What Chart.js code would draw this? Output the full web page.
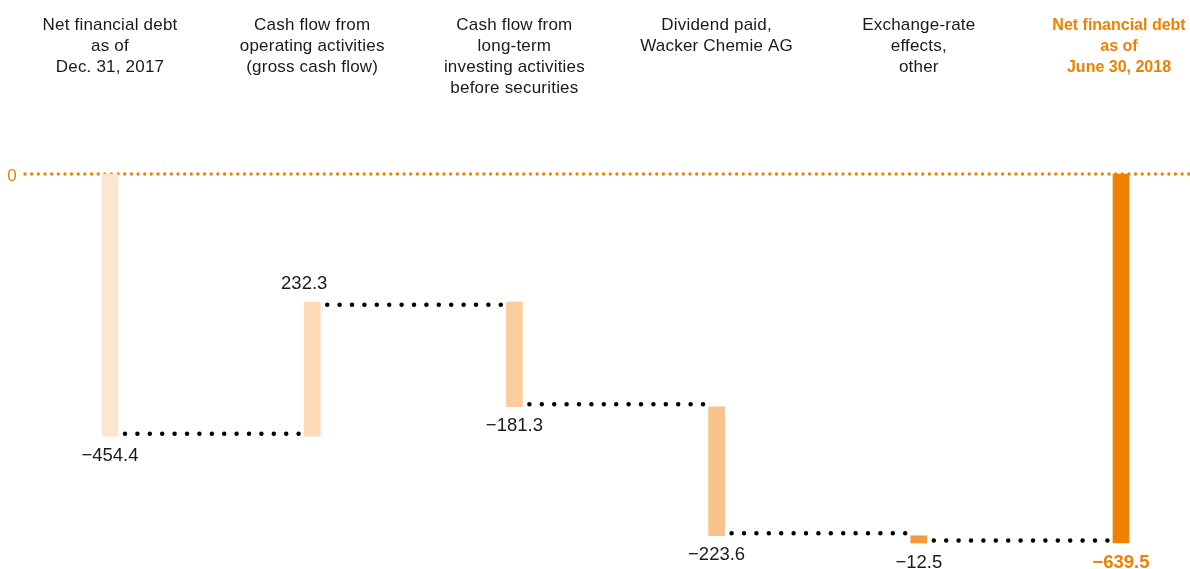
<!DOCTYPE html>
<html>
<head>
<meta charset="utf-8">
<script src="https://cdn.jsdelivr.net/npm/chart.js@4/dist/chart.umd.min.js"></script>
<style>
html,body{margin:0;padding:0;background:#fff;}
#wrap{width:1190px;height:569px;position:relative;}
</style>
</head>
<body>
<div id="wrap"><canvas id="c"></canvas></div>
<script>
// ---- data ----
const categories = [
  ["Net financial debt", "as of", "Dec. 31, 2017"],
  ["Cash flow from", "operating activities", "(gross cash flow)"],
  ["Cash flow from", "long-term", "investing activities", "before securities"],
  ["Dividend paid,", "Wacker Chemie AG"],
  ["Exchange-rate", "effects,", "other"],
  ["Net financial debt", "as of", "June 30, 2018"]
];
const values = [-454.4, 232.3, -181.3, -223.6, -12.5, -639.5];
const isTotal = [true, false, false, false, false, true];
const valueLabels = ["\u2212454.4", "232.3", "\u2212181.3", "\u2212223.6", "\u221212.5", "\u2212639.5"];
const zeroLabel = "0";

// ---- styles ----
const barColors = ["#FDE6D0", "#FDDAB8", "#FACC9E", "#F9C38D", "#F39A40", "#F08000"];
const ORANGE = "#F08000";
const TEXT = "#1a1a1a";
const FONT = "'Liberation Sans', Arial, Helvetica, sans-serif";

// build floating ranges
const ranges = [];
let run = 0;
values.forEach((v, i) => {
  if (isTotal[i]) { ranges.push([0, v]); run = v; }
  else { ranges.push([run, run + v]); run += v; }
});
const levels = ranges.map(r => r[1]);

const waterfallPlugin = {
  id: 'waterfall',
  beforeDatasetsDraw(chart) {
    const ctx = chart.ctx, y = chart.scales.y;
    const y0 = y.getPixelForValue(0);
    ctx.save();
    ctx.strokeStyle = ORANGE;
    ctx.lineWidth = 3.3;
    ctx.lineCap = 'round';
    ctx.setLineDash([0, 6.65]);
    ctx.beginPath();
    ctx.moveTo(25, y0);
    ctx.lineTo(1190, y0);
    ctx.stroke();
    ctx.setLineDash([]);
    ctx.fillStyle = ORANGE;
    ctx.font = "17px " + FONT;
    ctx.textAlign = 'center';
    ctx.textBaseline = 'middle';
    ctx.fillText(zeroLabel, 12, y0 + 2);
    ctx.restore();
  },
  afterDatasetsDraw(chart) {
    const ctx = chart.ctx, y = chart.scales.y;
    const meta = chart.getDatasetMeta(0);
    ctx.save();
    // connectors
    ctx.strokeStyle = "#000";
    ctx.lineWidth = 4.5;
    ctx.lineCap = 'round';
    ctx.setLineDash([0, 12.4]);
    for (let i = 0; i < meta.data.length - 1; i++) {
      const a = meta.data[i], b = meta.data[i + 1];
      const lp = y.getPixelForValue(levels[i]);
      const top = Math.min(a.y, a.base), bot = Math.max(a.y, a.base);
      const off = Math.abs(lp - bot) < Math.abs(lp - top) ? -2.5 : 2.5;
      const x1 = a.x + a.width / 2 + 7, x2 = b.x - b.width / 2 - 4;
      ctx.beginPath();
      ctx.moveTo(x1, lp + off);
      ctx.lineTo(x2, lp + off);
      ctx.stroke();
    }
    ctx.setLineDash([]);
    // value labels
    ctx.textAlign = 'center';
    ctx.textBaseline = 'middle';
    meta.data.forEach((el, i) => {
      const top = Math.min(el.y, el.base), bot = Math.max(el.y, el.base);
      const last = i === meta.data.length - 1;
      ctx.font = (last ? "bold " : "") + "18.5px " + FONT;
      ctx.fillStyle = last ? ORANGE : TEXT;
      if (values[i] > 0) ctx.fillText(valueLabels[i], el.x - 8, top - 18);
      else ctx.fillText(valueLabels[i], el.x, bot + 19.5);
    });
    ctx.restore();
  },
  afterDraw(chart) {
    const ctx = chart.ctx, x = chart.scales.x;
    ctx.save();
    ctx.textAlign = 'center';
    ctx.textBaseline = 'alphabetic';
    categories.forEach((lines, i) => {
      const last = i === categories.length - 1;
      if ('letterSpacing' in ctx) ctx.letterSpacing = last ? '0px' : '0.2px';
      ctx.font = (last ? "bold 16px " : "17px ") + FONT;
      ctx.fillStyle = last ? ORANGE : TEXT;
      const cx = x.getPixelForValue(i) - (last ? 2 : 0);
      lines.forEach((t, j) => ctx.fillText(t, cx, 30 + j * 20.9));
    });
    ctx.restore();
  }
};

new Chart(document.getElementById('c'), {
  type: 'bar',
  data: {
    labels: categories.map(c => c.join(' ')),
    datasets: [{
      data: ranges,
      backgroundColor: barColors,
      borderWidth: 0,
      borderSkipped: false,
      barThickness: 16,
      clip: false
    }]
  },
  options: {
    responsive: true,
    maintainAspectRatio: false,
    devicePixelRatio: 1,
    animation: false,
    layout: { padding: { top: 174, bottom: 26, left: 110, right: 69 } },
    plugins: { legend: { display: false }, tooltip: { enabled: false } },
    scales: {
      x: { display: false, offset: false, grid: { display: false } },
      y: { display: false, min: -639.5, max: 0, grid: { display: false } }
    }
  },
  plugins: [waterfallPlugin]
});
</script>
</body>
</html>
